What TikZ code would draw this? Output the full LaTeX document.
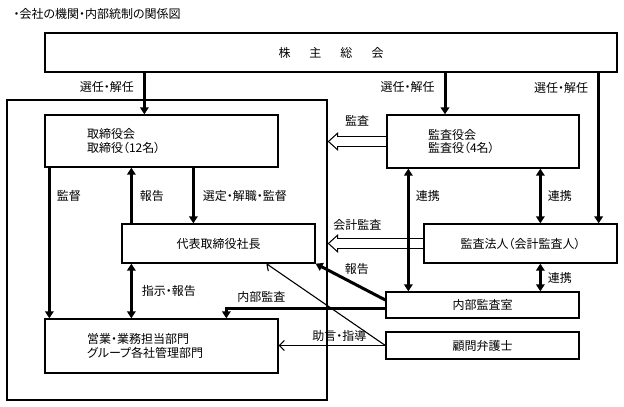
\documentclass[tikz,border=0pt]{standalone}
\usepackage{fontspec}
\setmainfont[RawFeature=+palt]{Noto Sans CJK JP}
\usetikzlibrary{arrows.meta,positioning,calc}
\begin{document}
\begin{tikzpicture}[x=1pt,y=-1pt,font=\fontsize{12pt}{13.5pt}\selectfont,
  orgnode/.style={draw,line width=1.3pt,inner sep=0pt,align=center},
  orgleft/.style={orgnode,align=left,text width=#1},
  tag/.style={inner sep=1pt},
  fatarrow/.style={line width=3pt,-{Triangle[length=7pt,width=8.5pt]}},
  fatboth/.style={line width=3pt,{Triangle[length=7pt,width=8.5pt]}-{Triangle[length=7pt,width=8.5pt]}},
  thinarrow/.style={line width=1.1pt,-{Straight Barb[length=5pt,width=10pt]}},
  hollow/.style={white,line width=8.6pt,shorten <=0.6pt,shorten >=1.8pt,
    -{Triangle[length=7.5pt,width=13.6pt,line width=0pt]},
    preaction={draw=black,line width=11pt,shorten >=0pt,
      -{Triangle[length=10.5pt,width=19pt,line width=0pt]}}}]
\useasboundingbox (0,0) rectangle (624,407);
\node[anchor=west] (title) at (10,14) {・会社の機関・内部統制の関係図};
\node[orgnode,minimum width=320pt,minimum height=300pt] (company) at (167,250) {};
\node[orgnode,minimum width=572pt,minimum height=39pt] (soukai) at (331,52.5)
  {株\hspace{19pt}主\hspace{19pt}総\hspace{19pt}会};
\node[orgleft=149pt,inner xsep=42pt,minimum height=52pt] (torishimari) at (161.5,141)
  {取締役会\\取締役（12名）};
\node[orgleft=110pt,inner xsep=41pt,minimum height=53pt] (kansayaku) at (483,141.5)
  {監査役会\\監査役（4名）};
\node[orgnode,minimum width=193pt,minimum height=39pt] (daihyo) at (218.5,243.5) {代表取締役社長};
\node[orgnode,minimum width=193pt,minimum height=39pt] (hojin) at (520.5,243.5) {監査法人（会計監査人）};
\node[orgnode,minimum width=193pt,minimum height=26pt] (naibu) at (482.5,305) {内部監査室};
\node[orgnode,minimum width=193pt,minimum height=27pt] (komon) at (482.5,345.5) {顧問弁護士};
\node[orgleft=149pt,inner xsep=42pt,minimum height=54pt] (eigyo) at (161.5,346)
  {営業・業務担当部門\\グループ各社管理部門};
\coordinate (t1) at ([xshift=100pt]torishimari.north west);
\coordinate (t2) at ([xshift=-38pt]kansayaku.north);
\coordinate (t3) at ([xshift=-19pt]hojin.north east);
\coordinate (k1) at ([xshift=5pt]torishimari.south west);
\coordinate (r1) at ([xshift=10pt]daihyo.north west);
\coordinate (s1) at ([xshift=149pt]torishimari.south west);
\coordinate (c1) at ([xshift=22pt]kansayaku.south west);
\coordinate (c2) at ([xshift=154pt]kansayaku.south west);
\coordinate (e1) at ([xshift=182pt]eigyo.north west);
\coordinate (d1) at ([xshift=145pt]daihyo.south west);
\draw[hollow] (kansayaku.west) -- (kansayaku.west -| company.east)
  node[tag,midway,above=9.5pt,text=black] {監査};
\draw[hollow] (hojin.west) -- (hojin.west -| company.east)
  node[tag,pos=0.69,above=7.5pt,text=black] {会計監査};
\draw[fatarrow] (soukai.south -| t1) -- (t1) node[tag,pos=0.35,left=8pt] {選任・解任};
\draw[fatarrow] (soukai.south -| t2) -- (t2) node[tag,pos=0.35,left=8pt] {選任・解任};
\draw[fatarrow] (soukai.south -| t3) -- (t3) node[tag,pos=0.1,left=8pt] {選任・解任};
\draw[fatarrow] (k1) -- (k1 |- eigyo.north) node[tag,pos=0.19,right=5pt] {監督};
\draw[fatarrow] (r1) -- (r1 |- torishimari.south) node[tag,midway,right=6pt] {報告};
\draw[fatarrow] (s1) -- (s1 |- daihyo.north) node[tag,midway,right=7pt] {選定・解職・監督};
\draw[fatboth] (r1 |- daihyo.south) -- (r1 |- eigyo.north) node[tag,midway,right=8pt] {指示・報告};
\draw[fatboth] (c1) -- (c1 |- naibu.north) node[tag,pos=0.226,right=5pt] {連携};
\draw[fatboth] (c2) -- (c2 |- hojin.north) node[tag,midway,right=5pt] {連携};
\draw[fatboth] (c2 |- hojin.south) -- (c2 |- naibu.north) node[tag,midway,right=5pt] {連携};
\draw[fatarrow] ([yshift=5pt]naibu.west) -- (daihyo.south east)
  node[tag,pos=0.41,above=8pt] {報告};
\draw[fatarrow] ([yshift=-3pt]naibu.west) -| (e1) node[tag,pos=0.39,above=3pt] {内部監査};
\draw[thinarrow] (komon.west) -- (d1);
\draw[thinarrow] (komon.west) -- (komon.west -| eigyo.east)
  node[tag,pos=0.43,above=2pt] {助言・指導};
\end{tikzpicture}
\end{document}
